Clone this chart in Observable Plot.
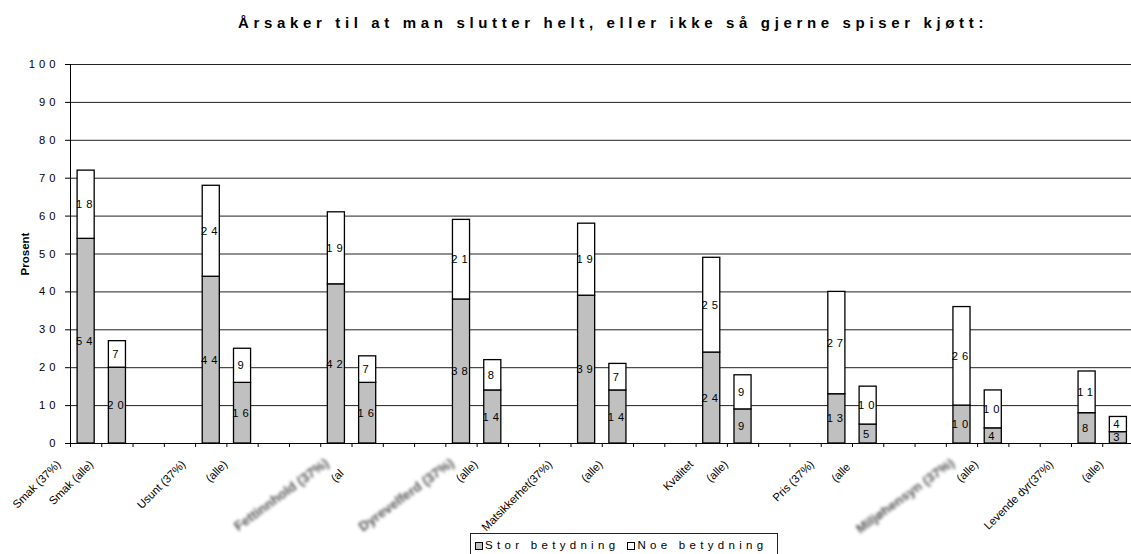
<!DOCTYPE html>
<html>
<head>
<meta charset="utf-8">
<script src="https://cdn.jsdelivr.net/npm/d3@7"></script>
<script src="https://cdn.jsdelivr.net/npm/@observablehq/plot@0.6"></script>
<style>
  html, body { margin: 0; padding: 0; overflow: hidden; background: #fff; }
  #wrap { position: relative; width: 1131px; height: 554px; overflow: hidden; font-family: "Liberation Sans", Arial, sans-serif; }
  #title { position: absolute; left: 238px; top: 14px; font-weight: bold; font-size: 15px; letter-spacing: 4.65px; white-space: nowrap; color: #000; }
  #legend { position: absolute; left: 470px; top: 533px; width: 308px; height: 30px; box-sizing: border-box; border: 1px solid #222; background: #fff;
            font-size: 11.5px; letter-spacing: 4.3px; white-space: nowrap; padding: 5px 0 0 4px; color: #000; }
  #legend .sw { display: inline-block; width: 8px; height: 8px; border: 1px solid #000; box-sizing: border-box; margin-right: 2px; vertical-align: -0.5px; }
  #legend .item { display: inline-block; }
  #legend .item + .item { margin-left: 8px; }
  g[aria-description="values"] text, g[aria-label="y-axis tick label"] text { letter-spacing: 4px; }
</style>
</head>
<body>
<div id="wrap">
  <div id="title">Årsaker til at man slutter helt, eller ikke så gjerne spiser kjøtt:</div>
  <div id="chart"></div>
  <div id="legend"></div>
</div>
<script>
// Category labels in drawing order (pairs: "(37%)" group, then "(alle)")
const categories = [
  "Smak (37%)", "Smak (alle)",
  "Usunt (37%)", "(alle)",
  "Fettinnhold (37%)", "(al",
  "Dyrevelferd (37%)", "(alle)",
  "Matsikkerhet(37%)", "(alle)",
  "Kvalitet", "(alle)",
  "Pris (37%)", "(alle",
  "Miljøhensyn (37%)", "(alle)",
  "Levende dyr(37%)", "(alle)"
];
// Labels that are obscured (blurred) in the source picture
const obscured = ["Fettinnhold (37%)", "Dyrevelferd (37%)", "Miljøhensyn (37%)"];

const storBetydning = [54, 20, 44, 16, 42, 16, 38, 14, 39, 14, 24, 9, 13, 5, 10, 4, 8, 3];
const noeBetydning  = [18, 7, 24, 9, 19, 7, 21, 8, 19, 7, 25, 9, 27, 10, 26, 10, 11, 4];

const seriesNames = ["Stor betydning", "Noe betydning"];
const seriesColors = ["#c0c0c0", "#ffffff"];
const yTicks = [0, 10, 20, 30, 40, 50, 60, 70, 80, 90, 100];

// each pair occupies two slots followed by two empty slots
const slotOf = i => Math.floor(i / 2) * 4 + (i % 2);
const nSlots = Math.floor((categories.length - 1) / 2) * 4 + 2;

const rows = categories.map((label, i) => ({
  slot: slotOf(i), label, stor: storBetydning[i], noe: noeBetydning[i],
  blurred: obscured.includes(label)
}));
const segs = rows.flatMap(r => [
  {slot: r.slot, y1: 0, y2: r.stor, v: r.stor, k: seriesNames[0]},
  {slot: r.slot, y1: r.stor, y2: r.stor + r.noe, v: r.noe, k: seriesNames[1]}
]);

const bandPx = 31.28;
const plot = Plot.plot({
  width: 1131,
  height: 554,
  marginTop: 64,
  marginBottom: 111,
  marginLeft: 70,
  marginRight: 0,
  style: {fontFamily: '"Liberation Sans", Arial, sans-serif', fontSize: "11px", color: "#000", background: "#fff", overflow: "hidden"},
  x: {type: "linear", domain: [0, nSlots], range: [70, 70 + nSlots * bandPx], axis: null},
  y: {domain: [0, 100], axis: null},
  color: {domain: seriesNames, range: seriesColors},
  marks: [
    Plot.ruleY(yTicks.slice(1), {stroke: "#222", strokeWidth: 1}),
    Plot.rectY(segs, {
      x1: d => d.slot, x2: d => d.slot + 1, y1: "y1", y2: "y2",
      fill: "k", stroke: "#000", strokeWidth: 1.3, insetLeft: 7.1, insetRight: 7.1
    }),
    Plot.text(segs, {
      x: d => d.slot + 0.5, y: d => (d.y1 + d.y2) / 2, text: "v",
      fill: "#000", fontSize: 11.2, ariaDescription: "values"
    }),
    Plot.ruleY([0], {stroke: "#000", strokeWidth: 1}),
    Plot.ruleX([0], {y1: 0, y2: 100, stroke: "#000", strokeWidth: 1}),
    Plot.axisY({ticks: yTicks, tickSize: 5, tickPadding: 6, tickFormat: d => String(d), label: null, fontSize: 11.2}),
    Plot.axisX({ticks: d3.range(0, nSlots + 1), tickSize: 4, tickFormat: () => "", label: null}),
    Plot.text(["Prosent"], {frameAnchor: "left", dx: -45, rotate: -90, fontWeight: "bold", fontSize: 11.5, textAnchor: "middle"}),
    Plot.text(rows.filter(r => !r.blurred), {
      x: d => d.slot + 0.5, y: 0, text: "label", rotate: -45, textAnchor: "end",
      dy: 19, fontSize: 11.3, fill: "#000", ariaDescription: "catlabels"
    }),
    Plot.text(rows.filter(r => r.blurred), {
      x: d => d.slot + 0.5, y: 0, text: "label", rotate: -36, textAnchor: "end",
      dx: -9, dy: 18, fontSize: 13.5, fontWeight: "bold", fill: "#555", ariaDescription: "blurred"
    })
  ]
});
document.getElementById("chart").appendChild(plot);

// blur filter for obscured labels
const ns = "http://www.w3.org/2000/svg";
const defs = document.createElementNS(ns, "defs");
const filt = document.createElementNS(ns, "filter");
filt.setAttribute("id", "obscure");
filt.setAttribute("x", "-20%"); filt.setAttribute("y", "-50%");
filt.setAttribute("width", "140%"); filt.setAttribute("height", "200%");
const blur = document.createElementNS(ns, "feGaussianBlur");
blur.setAttribute("stdDeviation", "1.7");
filt.appendChild(blur); defs.appendChild(filt);
plot.insertBefore(defs, plot.firstChild);
const bg = plot.querySelector('g[aria-description="blurred"]');
if (bg) bg.setAttribute("filter", "url(#obscure)");

// Excel-like placement of rotated category labels
const lg = plot.querySelector('g[aria-description="catlabels"]');
if (lg) {
  const texts = [...lg.querySelectorAll("text")];
  const ref = texts.find(t => t.textContent === "(alle)");
  const Lalle = ref ? ref.getComputedTextLength() : 25;
  texts.forEach(t => {
    const s = t.textContent;
    const L = t.getComputedTextLength();
    const trunc = s.startsWith("(al") && !s.endsWith(")");
    const Lf = trunc ? Lalle : L;
    const off = 0.28 * Lf + 10;
    const tr = t.getAttribute("transform") || "";
    t.setAttribute("transform", `translate(${-off},0) ${tr}` + (trunc ? ` translate(${-(Lf - L)},0)` : ""));
  });
}

// legend
const legend = document.getElementById("legend");
seriesNames.forEach((name, i) => {
  const item = document.createElement("span");
  item.className = "item";
  const sw = document.createElement("span");
  sw.className = "sw";
  sw.style.background = seriesColors[i];
  item.appendChild(sw);
  item.appendChild(document.createTextNode(name));
  legend.appendChild(item);
});
</script>
</body>
</html>
